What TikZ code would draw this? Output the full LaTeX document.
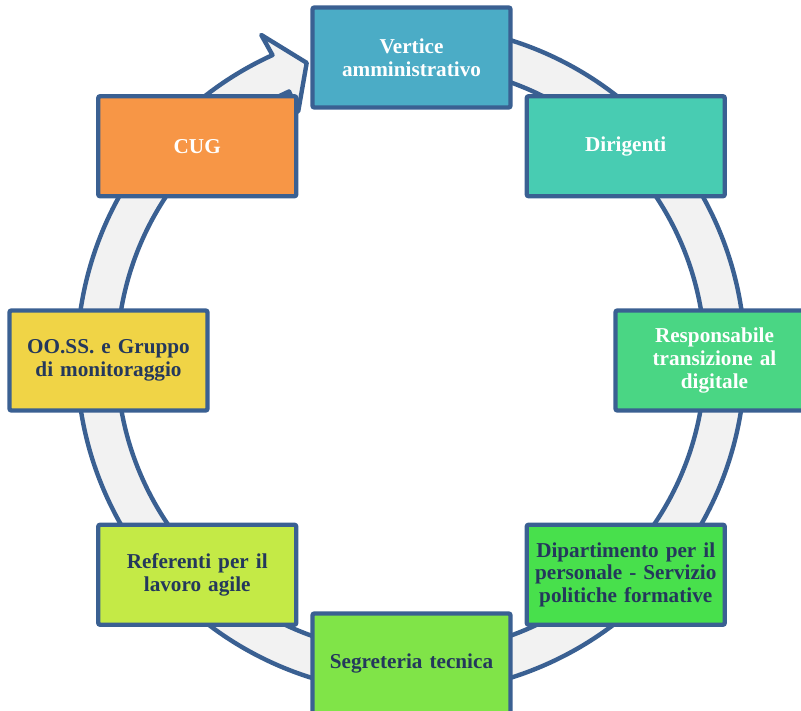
\documentclass[tikz,border=0pt]{standalone}
\usepackage{fontspec}
\setmainfont{Liberation Serif}
\usetikzlibrary{calc}
\definecolor{edge}{RGB}{58,96,146}
\definecolor{ringfill}{RGB}{242,242,242}
\definecolor{darktxt}{RGB}{36,56,92}
\definecolor{cVert}{RGB}{75,172,198}
\definecolor{cDir}{RGB}{72,204,178}
\definecolor{cResp}{RGB}{74,214,132}
\definecolor{cDip}{RGB}{72,224,76}
\definecolor{cSeg}{RGB}{128,228,72}
\definecolor{cRef}{RGB}{196,234,70}
\definecolor{cOO}{RGB}{240,212,70}
\definecolor{cCUG}{RGB}{247,150,70}
\tikzset{
  stepbox/.style={draw=edge, line width=4.4pt, rounded corners=2pt,
    minimum width=198pt, minimum height=100pt, text width=192pt,
    align=center, inner sep=0pt,
    font=\bfseries\fontsize{21.2}{22.6}\selectfont},
  lighttxt/.style={text=white},
  darkbox/.style={text=darktxt},
  ringstyle/.style={draw=edge, fill=ringfill, line width=4.4pt, line join=round}
}
\begin{document}
\begin{tikzpicture}[x=1pt,y=1pt]
\useasboundingbox (0,0) rectangle (801,710);
\clip (0,0) rectangle (801,710);
\coordinate (rc) at (411,351);
\coordinate (nc) at (411.5,349.5);
% ring arrow
\draw[ringstyle] ($(rc)+(114.5:334)$) arc[start angle=114.5, end angle=440, radius=334]
  -- ($(rc)+(80:294)$) arc[start angle=440, end angle=114.5, radius=294]
  -- ($(rc)+(114.5:272)$) -- ($(rc)+(109.4:314)$) -- ($(rc)+(114.8:357)$) -- cycle;
% boxes
\node[stepbox, fill=cVert, lighttxt] (vert) at ($(nc)+(90:303)$) {Vertice\\amministrativo};
\node[stepbox, fill=cDir, lighttxt] (dir) at ($(nc)+(45:303)$) {Dirigenti};
\node[stepbox, fill=cResp, lighttxt] (resp) at ($(nc)+(0:303)$) {Responsabile\\transizione al\\digitale};
\node[stepbox, fill=cDip, darkbox] (dip) at ($(nc)+(-45:303)$) {Dipartimento per il\\personale - Servizio\\politiche formative};
\node[stepbox, fill=cSeg, darkbox] (seg) at ($(nc)+(-90:303)$) {Segreteria tecnica};
\node[stepbox, fill=cRef, darkbox] (ref) at ($(nc)+(-135:303)$) {Referenti per il\\lavoro agile};
\node[stepbox, fill=cOO, darkbox] (oo) at ($(nc)+(180:303)$) {OO.SS. e Gruppo\\di monitoraggio};
\node[stepbox, fill=cCUG, lighttxt] (cug) at ($(nc)+(135:303)$) {CUG};
\end{tikzpicture}
\end{document}
